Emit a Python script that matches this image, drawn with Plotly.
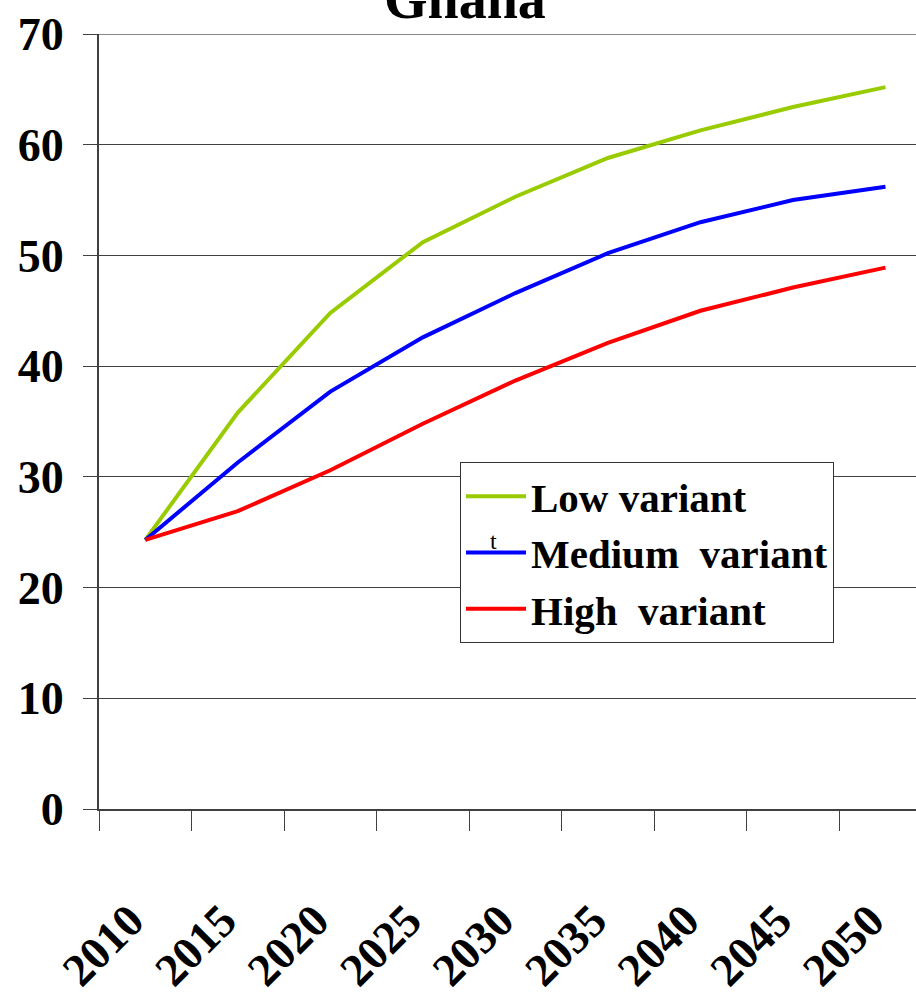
import plotly.graph_objects as go

# Projected values, 2010-2050, for three variants
years = ["2010", "2015", "2020", "2025", "2030", "2035", "2040", "2045", "2050"]
low_variant = [24.3, 35.8, 44.8, 51.2, 55.3, 58.8, 61.3, 63.4, 65.2]
medium_variant = [24.3, 31.3, 37.7, 42.6, 46.6, 50.2, 53.0, 55.0, 56.2]
high_variant = [24.3, 26.9, 30.6, 34.8, 38.7, 42.1, 45.0, 47.1, 48.9]

series_names = ["Low variant", "Medium  variant", "High  variant"]
series_colors = ["#99CC00", "#0000FF", "#FF0000"]
y_ticks = [0, 10, 20, 30, 40, 50, 60, 70]

FONT = "Liberation Serif"

fig = go.Figure()
for name, values, color in zip(series_names,
                               [low_variant, medium_variant, high_variant],
                               series_colors):
    fig.add_trace(go.Scatter(
        x=years, y=values, name=name, mode="lines",
        line=dict(color=color, width=4),
    ))

fig.update_layout(
    width=916, height=1003,
    margin=dict(l=99, r=0, t=34, b=194),
    paper_bgcolor="white", plot_bgcolor="white",
    font=dict(family=FONT, color="black"),
    showlegend=True,
    legend=dict(
        x=(460 - 99) / 817, y=(809 - 462) / 775, xanchor="left", yanchor="top",
        bgcolor="white", bordercolor="#333333", borderwidth=1,
        font=dict(family=FONT, size=41, color="black", weight="bold"),
        itemwidth=60,
        tracegroupgap=0,
    ),
    xaxis=dict(
        type="category",
        range=[-0.5, 8.33],
        tickson="boundaries",
        ticks="outside", ticklen=20, tickwidth=1, tickcolor="#404040",
        showline=True, linecolor="#404040", linewidth=2,
        showgrid=False,
        tickangle=-45,
        ticklabelstandoff=64,
        ticklabelshift=-15,
        tickfont=dict(family=FONT, size=46, weight="bold", color="black"),
    ),
    yaxis=dict(
        range=[0, 70],
        tickvals=y_ticks,
        ticks="outside", ticklen=14, tickwidth=1, tickcolor="#404040",
        showline=True, linecolor="#404040", linewidth=2,
        showgrid=True, gridcolor="#404040", gridwidth=1,
        zeroline=False,
        ticklabelstandoff=10,
        tickfont=dict(family=FONT, size=46, weight="bold", color="black"),
    ),
    annotations=[
        dict(
            text="Ghana", xref="paper", yref="paper",
            x=(465 - 99) / 817, y=1.0, xanchor="center", yanchor="bottom",
            yshift=2, showarrow=False,
            font=dict(family=FONT, size=56, weight="bold", color="black"),
        ),
        dict(
            text="t", xref="paper", yref="paper",
            x=(493 - 99) / 817, y=(809 - 541) / 775,
            xanchor="center", yanchor="middle", showarrow=False,
            font=dict(family=FONT, size=24, color="black"),
        ),
    ],
    shapes=[
        dict(type="line", xref="paper", yref="y", x0=0, x1=1, y0=70, y1=70,
             line=dict(color="#888888", width=2), layer="above"),
    ],
)

fig.write_html("out.html")
